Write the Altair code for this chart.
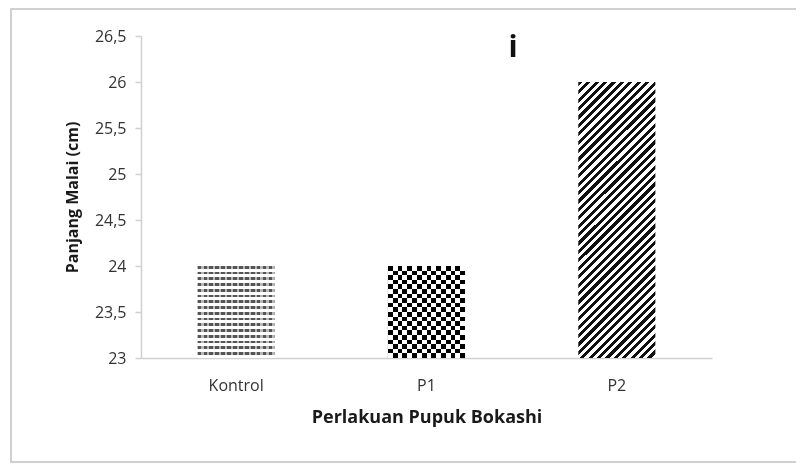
import altair as alt
import pandas as pd

# ---- data ----
kategori = ["Kontrol", "P1", "P2"]
panjang_malai = [24, 24, 26]
y_ticks = [23, 23.5, 24, 24.5, 25, 25.5, 26, 26.5]
x_title = "Perlakuan Pupuk Bokashi"
y_title = "Panjang Malai (cm)"
annot = "i"

df = pd.DataFrame({"kategori": kategori, "nilai": panjang_malai})
one = pd.DataFrame({"k": [0]})

FONT = "Open Sans"
W, H = 571, 322


def stripe_gradient(n, dark, light, frac, x1, y1, x2, y2):
    stops = []
    for i in range(n):
        a = round(i / n, 5)
        b = round(min(1.0, (i + frac) / n), 5)
        c = round(min(1.0, (i + 1) / n), 5)
        stops += [(a, dark), (b, dark), (b, light), (c, light)]
    return alt.LinearGradient(
        gradient="linear",
        stops=[alt.GradientStop(offset=o, color=col) for o, col in stops],
        x1=x1, y1=y1, x2=x2, y2=y2,
    )


# bar geometry (for pattern styling only)
bw = 77.0
h_high = 276.0

# Kontrol: grey wavy lines (horizontal lines broken by a lighter vertical texture)
grad_k = stripe_gradient(16, "#555555", "#ffffff", 0.45, 0, 0, 0, 1)
grad_k_v = stripe_gradient(13, "#000000", "#b8b8b8", 0.6, 0, 0, 1, 0)
# P1: checkerboard = vertical stripes XOR horizontal stripes
grad_p1_v = stripe_gradient(8, "#000000", "#ffffff", 0.5, 0, 0, 1, 0)
grad_p1_h = stripe_gradient(10, "#000000", "#ffffff", 0.5, 0, 0, 0, 1)
# P2: diagonal stripes "/" direction
c = (bw + h_high) / (bw ** 2 + h_high ** 2)
gx, gy = c * bw, c * h_high
grad_p2 = stripe_gradient(42, "#111111", "#ffffff", 0.5, 0, 0, round(gx, 5), round(gy, 5))

x_enc = alt.X(
    "kategori:N",
    sort=kategori,
    scale=alt.Scale(paddingInner=0.595, paddingOuter=0.2975),
    axis=alt.Axis(
        title=x_title,
        labelAngle=0,
        ticks=False,
        tickSize=0,
        labelPadding=19,
        labelFont=FONT,
        labelFontSize=16,
        labelColor="#333333",
        domainColor="#d0d0d0",
        domainWidth=1.5,
        titleFont=FONT,
        titleFontSize=18,
        titleFontWeight="bold",
        titleColor="#1a1a1a",
        titleX=W / 2,
        titleY=59,
        titleAlign="center",
        titleBaseline="middle",
        grid=False,
    ),
)
y_enc = alt.Y(
    "nilai:Q",
    scale=alt.Scale(domain=[23, 26.5], zero=False, nice=False),
    axis=alt.Axis(
        title=y_title,
        values=y_ticks,
        labelExpr="replace(format(datum.value, '~g'), '.', ',')",
        labelFont=FONT,
        labelFontSize=16,
        labelColor="#333333",
        labelPadding=9,
        tickColor="#d0d0d0",
        tickSize=6,
        tickWidth=1.5,
        domainColor="#d0d0d0",
        domainWidth=1.5,
        titleFont=FONT,
        titleFontSize=16,
        titleFontWeight="bold",
        titleColor="#1a1a1a",
        titleX=-69,
        titleY=H / 2,
        titleAlign="center",
        titleBaseline="middle",
        grid=False,
    ),
)

base = alt.Chart(df).encode(x=x_enc, y=y_enc, y2=alt.datum(23))

bar_k = base.transform_filter(alt.datum.kategori == "Kontrol").mark_bar(fill=grad_k)
bar_k2 = base.transform_filter(alt.datum.kategori == "Kontrol").mark_bar(fill=grad_k_v, blend="lighten")
bar_p1a = base.transform_filter(alt.datum.kategori == "P1").mark_bar(fill=grad_p1_v)
bar_p1b = base.transform_filter(alt.datum.kategori == "P1").mark_bar(fill=grad_p1_h, blend="difference")
bar_p2 = base.transform_filter(alt.datum.kategori == "P2").mark_bar(fill=grad_p2)

label_i = alt.Chart(one).mark_text(
    text=annot, font=FONT, fontSize=30, fontWeight="bold", align="center",
    baseline="alphabetic", color="#111111"
).encode(x=alt.value(372), y=alt.value(21))

frame = alt.Chart(one).mark_rect(filled=False, stroke="#d0d0d0", strokeWidth=2).encode(
    x=alt.value(-130), x2=alt.value(700), y=alt.value(-27), y2=alt.value(426)
)

chart = (
    alt.layer(frame, bar_k, bar_k2, bar_p1a, bar_p1b, bar_p2, label_i)
    .properties(
        width=W,
        height=H,
        padding={"left": 133, "top": 28, "right": 84, "bottom": 106},
        autosize=alt.AutoSizeParams(type="none"),
        background="#ffffff",
    )
    .configure_view(stroke="transparent")
)

chart.save("out.html", embed_options={"renderer": "svg", "actions": False})
